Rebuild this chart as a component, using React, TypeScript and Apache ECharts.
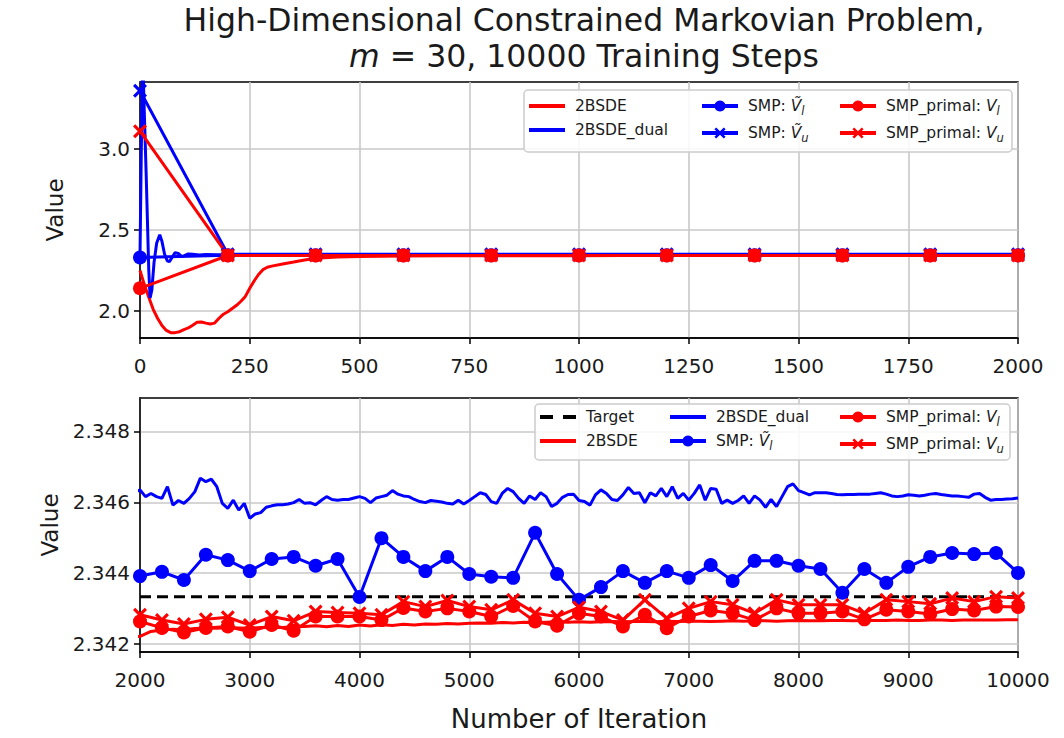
import React, { useEffect, useRef } from 'react';
import * as echarts from 'echarts';

const range = (a: number, b: number, s: number) => {
  const r: number[] = [];
  for (let v = a; v <= b + 1e-9; v += s) r.push(v);
  return r;
};

// ---------- 2BSDE (primal) ----------
const bsdeEarlyIter = [0, 10, 20, 30, 40, 50, 60, 70, 80, 90, 100, 110, 120, 130, 140, 150, 160, 170, 180, 190, 200, 210, 220, 230, 240, 250, 260, 270, 280, 290, 300, 325, 350, 375, 400, 450, 500, 600, 700, 800, 900, 1000, 1100, 1200, 1300, 1400, 1500, 1600, 1700, 1800, 1900];
const bsdeEarlyVal = [2.25, 2.16, 2.085, 2.01, 1.955, 1.91, 1.88, 1.866, 1.866, 1.872, 1.885, 1.895, 1.912, 1.93, 1.932, 1.925, 1.92, 1.925, 1.955, 1.98, 1.995, 2.015, 2.035, 2.06, 2.09, 2.14, 2.185, 2.225, 2.255, 2.27, 2.277, 2.29, 2.302, 2.315, 2.326, 2.333, 2.336, 2.339, 2.3405, 2.3412, 2.3415, 2.3417, 2.3418, 2.3419, 2.3419, 2.342, 2.342, 2.3421, 2.3421, 2.3421, 2.3422];
const bsdeLateIter = range(2000, 10000, 100);
const bsdeLateVal = [2.34222, 2.34236, 2.3424, 2.34242, 2.34241, 2.34244, 2.34246, 2.34245, 2.34247, 2.34246, 2.34245, 2.34247, 2.34248, 2.34247, 2.34249, 2.3425, 2.34252, 2.34249, 2.34253, 2.3425, 2.34254, 2.34251, 2.34255, 2.34253, 2.34256, 2.34254, 2.34257, 2.34256, 2.34258, 2.34257, 2.34259, 2.3426, 2.34259, 2.34261, 2.3426, 2.34262, 2.34261, 2.34262, 2.34263, 2.34262, 2.34263, 2.34262, 2.34263, 2.34264, 2.34263, 2.34264, 2.34264, 2.34263, 2.34265, 2.34264, 2.34265, 2.34265, 2.34264, 2.34265, 2.34266, 2.34265, 2.34266, 2.34266, 2.34265, 2.34266, 2.34267, 2.34266, 2.34266, 2.34267, 2.34267, 2.34266, 2.34267, 2.34267, 2.34267, 2.34268, 2.34267, 2.34267, 2.34268, 2.34268, 2.34267, 2.34268, 2.34268, 2.34268, 2.34268, 2.34269, 2.34269];

// ---------- 2BSDE_dual ----------
const dualEarlyIter = [0, 3, 6, 9, 14, 20, 23, 27, 32, 38, 45, 50, 56, 62, 67, 73, 80, 87, 94, 100, 110, 120, 135, 150, 175, 200, 300, 400, 500, 600, 700, 800, 900, 1000, 1100, 1200, 1300, 1400, 1500, 1600, 1700, 1800, 1900];
const dualEarlyVal = [2.33, 3.0, 3.6, 3.3, 2.85, 2.25, 2.08, 2.13, 2.3, 2.42, 2.47, 2.43, 2.35, 2.31, 2.305, 2.33, 2.36, 2.355, 2.338, 2.34, 2.352, 2.35, 2.346, 2.348, 2.347, 2.3465, 2.3463, 2.3462, 2.3464, 2.3461, 2.3463, 2.3462, 2.3464, 2.3462, 2.3463, 2.3461, 2.3463, 2.3464, 2.3462, 2.3463, 2.3461, 2.3463, 2.3462];
const dualLateIter = range(2000, 10000, 50);
const dualLateVal = [
  2.34635, 2.34616, 2.34625, 2.34616, 2.34611, 2.34644, 2.34592, 2.34605, 2.34597, 2.34611,
  2.3463, 2.34668, 2.34658, 2.34665, 2.34644, 2.34597, 2.34583, 2.34606, 2.34578, 2.34597,
  2.34555, 2.34567, 2.34571, 2.34586, 2.3459, 2.34593, 2.34593, 2.34595, 2.34599, 2.34608,
  2.34597, 2.34599, 2.34593, 2.34605, 2.34616, 2.34608, 2.34606, 2.34608, 2.34608, 2.34612,
  2.34616, 2.34611, 2.34599, 2.34612, 2.34616, 2.3462, 2.34633, 2.34623, 2.34618, 2.34616,
  2.34608, 2.34602, 2.34599, 2.34605, 2.34603, 2.34601, 2.34597, 2.34595, 2.34606, 2.34595,
  2.34605, 2.34616, 2.34627, 2.34622, 2.34602, 2.34597, 2.34625, 2.34639, 2.3463, 2.34611,
  2.34597, 2.34618, 2.34608, 2.34627, 2.34616, 2.34588, 2.34597, 2.34614, 2.34622, 2.34623,
  2.34605, 2.34602, 2.34592, 2.34621, 2.34635, 2.34625, 2.34608, 2.34605, 2.34621, 2.34642,
  2.34625, 2.34627, 2.34599, 2.34627, 2.34618, 2.34639, 2.34616, 2.34644, 2.34611, 2.34625,
  2.34606, 2.34625, 2.34649, 2.34606, 2.34639, 2.34637, 2.34597, 2.34606, 2.34597, 2.34605,
  2.34618, 2.34597, 2.34618, 2.34606, 2.34586, 2.34608, 2.34588, 2.34616, 2.34644, 2.34652,
  2.34633, 2.34627, 2.34621, 2.34627, 2.34627, 2.34627, 2.34625, 2.34622, 2.34621, 2.34622,
  2.34622, 2.34623, 2.34623, 2.34623, 2.34625, 2.34627, 2.34623, 2.34618, 2.34616, 2.34618,
  2.34621, 2.3462, 2.34618, 2.3462, 2.34623, 2.34625, 2.34622, 2.3462, 2.34618, 2.34618,
  2.34616, 2.34614, 2.34623, 2.34625, 2.34614, 2.34606, 2.34608, 2.34608, 2.34609, 2.3461,
  2.34612,
];

// ---------- SMP (every 200 iterations, 0..10000) ----------
const smpIter = range(0, 10000, 200);
const smpVl = [2.33, 2.3445, 2.3442, 2.3441, 2.3443, 2.344, 2.3442, 2.3441, 2.344, 2.3442,
  2.34392, 2.34404, 2.34381, 2.34452, 2.34437, 2.34406, 2.3444, 2.34446, 2.34421, 2.3444,
  2.34333, 2.34499, 2.34446, 2.34406, 2.34446, 2.34398, 2.3439, 2.34387, 2.34514, 2.34398,
  2.34325, 2.34361, 2.34406, 2.34373, 2.34406, 2.34387, 2.34423, 2.34378, 2.34435, 2.34435,
  2.34421, 2.34412, 2.34345, 2.34412, 2.34373, 2.34418, 2.34446, 2.34457, 2.34454, 2.34457,
  2.34401];
const smpVuIter = range(0, 2000, 200);
const smpVu = [3.36, 2.35, 2.3498, 2.3499, 2.3497, 2.3498, 2.3496, 2.3497, 2.3498, 2.3496, 2.3497];
const primalVl = [2.14, 2.3426, 2.3425, 2.3425, 2.3426, 2.3425, 2.3426, 2.3425, 2.3426, 2.3425,
  2.34264, 2.34246, 2.34233, 2.34246, 2.3425, 2.34235, 2.34254, 2.34238, 2.34278, 2.34278,
  2.34278, 2.34268, 2.34302, 2.34292, 2.34301, 2.34292, 2.34278, 2.34308, 2.34264, 2.34252,
  2.34287, 2.34278, 2.3425, 2.34283, 2.34245, 2.34278, 2.34295, 2.34287, 2.34268, 2.34301,
  2.34287, 2.34287, 2.34292, 2.3427, 2.34297, 2.34292, 2.34285, 2.34299, 2.34295, 2.34306,
  2.34305];
const primalVu = [3.11, 2.3429, 2.3428, 2.3429, 2.3429, 2.3428, 2.3429, 2.3428, 2.3429, 2.3428,
  2.34283, 2.34268, 2.34257, 2.3427, 2.34276, 2.34254, 2.34278, 2.34266, 2.34292, 2.34289,
  2.34287, 2.34283, 2.3432, 2.34306, 2.34323, 2.34306, 2.34297, 2.34325, 2.34287, 2.34278,
  2.34304, 2.34292, 2.34268, 2.34325, 2.34273, 2.34301, 2.3432, 2.34311, 2.34287, 2.34325,
  2.34311, 2.34311, 2.34311, 2.34287, 2.34325, 2.3432, 2.34314, 2.3433, 2.3432, 2.34334,
  2.3433];

const targetIter = [2000, 10000];
const targetVal = [2.34334, 2.34334];

// tick labels
const topXTicks = { min: 0, max: 2000, interval: 250 };
const botXTicks = { min: 2000, max: 10000, interval: 1000 };
const topYTicks = [2.0, 2.5, 3.0];
const botYTicks = [2.342, 2.344, 2.346, 2.348];

const FONT = 'DejaVu Sans';
const RED = '#ff0000';
const BLUE = '#0000ff';
const TXT = '#1a1a1a';
const X_SYMBOL = 'path://M0,1.6L1.6,0L5,3.4L8.4,0L10,1.6L6.6,5L10,8.4L8.4,10L5,6.6L1.6,10L0,8.4L3.4,5Z';
const LINE_ICON = 'path://M0,0H36V4H0Z';
const DASH_ICON = 'path://M0,0H13V4H0ZM23,0H36V4H23Z';

const zip = (xs: number[], ys: number[]) => xs.map((x, i) => [x, ys[i]]);

const bsdeData = zip([...bsdeEarlyIter, ...bsdeLateIter], [...bsdeEarlyVal, ...bsdeLateVal]);
const dualData = zip([...dualEarlyIter, ...dualLateIter], [...dualEarlyVal, ...dualLateVal]);

const N_BSDE = '2BSDE';
const N_DUAL = '2BSDE_dual';
const N_SMPL = 'SMP: Ṽl';
const N_SMPU = 'SMP: Ṽu';
const N_PRL = 'SMP_primal: Vl';
const N_PRU = 'SMP_primal: Vu';
const N_TGT = 'Target';

function plain(name: string, g: number, data: number[][], color: string, extra: any = {}) {
  return {
    type: 'line', name, xAxisIndex: g, yAxisIndex: g, data, color,
    showSymbol: false, symbol: 'none', clip: true,
    lineStyle: { color, width: 3 },
    ...extra,
  };
}
function marked(name: string, g: number, data: number[][], color: string, symbol: string) {
  return {
    type: 'line', name, xAxisIndex: g, yAxisIndex: g, data, color,
    symbol, symbolSize: 14, showSymbol: true, clip: true,
    lineStyle: { color, width: 3 },
    itemStyle: { color, borderWidth: 0 },
  };
}

const legendFmt = (name: string) => {
  const m = name.match(/^(.*: )(Ṽ|V)([lu])$/);
  if (!m) return `{t|${name}}`;
  return `{t|${m[1]}}{v|${m[2]}}{s|${m[3]}}`;
};
const legendRich = {
  t: { fontSize: 15.5, fontFamily: FONT, color: TXT, lineHeight: 22 },
  v: { fontSize: 15.5, fontFamily: FONT, fontStyle: 'italic', color: TXT, lineHeight: 22 },
  s: { fontSize: 11.5, fontFamily: FONT, fontStyle: 'italic', color: TXT, verticalAlign: 'bottom' },
};
const iconFor: Record<string, string> = { [N_BSDE]: LINE_ICON, [N_DUAL]: LINE_ICON, [N_TGT]: DASH_ICON };
function legend(left: number, top: number, names: string[]) {
  return {
    orient: 'vertical', left, top, padding: 0, itemGap: 8,
    data: names.map((n) => (iconFor[n] ? { name: n, icon: iconFor[n] } : { name: n })),
    itemWidth: 36, itemHeight: 14, z: 20,
    lineStyle: { width: 4 },
    formatter: legendFmt,
    textStyle: { padding: [0, 0, 0, 5], rich: legendRich },
    selectedMode: false,
  };
}

function xAxis(g: number, t: { min: number; max: number; interval: number }, name?: string) {
  return {
    type: 'value', gridIndex: g, min: t.min, max: t.max, interval: t.interval,
    name, nameLocation: 'middle', nameGap: 54,
    nameTextStyle: { fontSize: 26, fontFamily: FONT, color: TXT },
    axisLine: { show: true, onZero: false, lineStyle: { color: '#000', width: 1.5 } },
    axisTick: { show: true, length: 6, lineStyle: { color: '#000', width: 1.5 } },
    axisLabel: { fontSize: 20, fontFamily: FONT, color: TXT, margin: 18, formatter: (v: number) => String(v) },
    splitLine: { show: true, lineStyle: { color: '#c8c8c8', width: 1.6 } },
  };
}
function yAxis(g: number, min: number, max: number, ticks: number[], digits: number) {
  return {
    type: 'value', gridIndex: g, min, max,
    name: 'Value', nameLocation: 'middle', nameGap: 74,
    nameTextStyle: { fontSize: 23, fontFamily: FONT, color: TXT },
    axisLine: { show: true, onZero: false, lineStyle: { color: '#000', width: 1.5 } },
    axisTick: { show: true, length: 6, customValues: ticks, lineStyle: { color: '#000', width: 1.5 } },
    axisLabel: { fontSize: 20, fontFamily: FONT, color: TXT, margin: 10, customValues: ticks, formatter: (v: number) => v.toFixed(digits) },
    splitLine: { show: true, lineStyle: { color: '#c8c8c8', width: 1.6 } },
  };
}

const option: any = {
  animation: false,
  backgroundColor: '#ffffff',
  textStyle: { fontFamily: FONT },
  title: {
    text: '{a|High-Dimensional Constrained Markovian Problem,}\n{i|m}{a| = 30, 10000 Training Steps}',
    left: 579, top: -3, textAlign: 'center',
    textStyle: {
      fontWeight: 'normal',
      rich: {
        a: { fontSize: 31.5, fontFamily: FONT, fontWeight: 'normal', color: TXT, lineHeight: 36 },
        i: { fontSize: 31.5, fontFamily: FONT, fontWeight: 'normal', fontStyle: 'italic', color: TXT, lineHeight: 36 },
      },
    },
  },
  grid: [
    { left: 140, right: 46, top: 82, height: 256, show: true, borderColor: '#000', borderWidth: 1.5 },
    { left: 140, right: 46, top: 398, height: 254, show: true, borderColor: '#000', borderWidth: 1.5 },
  ],
  xAxis: [xAxis(0, topXTicks), xAxis(1, botXTicks, 'Number of Iteration')],
  yAxis: [yAxis(0, 1.833, 3.414, topYTicks, 1), yAxis(1, 2.34178, 2.34894, botYTicks, 3)],
  legend: [
    legend(529, 98, [N_BSDE, N_DUAL]),
    legend(700, 98, [N_SMPL, N_SMPU]),
    legend(838, 98, [N_PRL, N_PRU]),
    legend(540, 409, [N_TGT, N_BSDE]),
    legend(668, 409, [N_DUAL, N_SMPL]),
    legend(838, 409, [N_PRL, N_PRU]),
  ],
  graphic: [
    { type: 'rect', z: 10, shape: { x: 524, y: 90, width: 488, height: 62, r: 4 }, style: { fill: 'rgba(255,255,255,0.85)', stroke: '#cccccc', lineWidth: 1.5 } },
    { type: 'rect', z: 10, shape: { x: 535, y: 404, width: 475, height: 56, r: 4 }, style: { fill: 'rgba(255,255,255,0.85)', stroke: '#cccccc', lineWidth: 1.5 } },
  ],
  series: [
    plain(N_BSDE, 0, bsdeData, RED),
    plain(N_DUAL, 0, dualData, BLUE),
    marked(N_SMPL, 0, zip(smpIter, smpVl), BLUE, 'circle'),
    marked(N_SMPU, 0, zip(smpVuIter, smpVu), BLUE, X_SYMBOL),
    marked(N_PRL, 0, zip(smpIter, primalVl), RED, 'circle'),
    marked(N_PRU, 0, zip(smpIter, primalVu), RED, X_SYMBOL),

    plain(N_TGT, 1, zip(targetIter, targetVal), '#000000', { lineStyle: { color: '#000', width: 3, type: [11, 6] } }),
    plain(N_BSDE, 1, bsdeData, RED),
    plain(N_DUAL, 1, dualData, BLUE),
    marked(N_SMPL, 1, zip(smpIter, smpVl), BLUE, 'circle'),
    marked(N_PRL, 1, zip(smpIter, primalVl), RED, 'circle'),
    marked(N_PRU, 1, zip(smpIter, primalVu), RED, X_SYMBOL),
  ],
};

export default function App() {
  const ref = useRef<HTMLDivElement>(null);
  useEffect(() => {
    document.body.style.margin = '0';
    const chart = echarts.init(ref.current!, null, { renderer: 'svg' });
    chart.setOption(option);
    return () => chart.dispose();
  }, []);
  return <div ref={ref} style={{ width: 1064, height: 738 }} />;
}
